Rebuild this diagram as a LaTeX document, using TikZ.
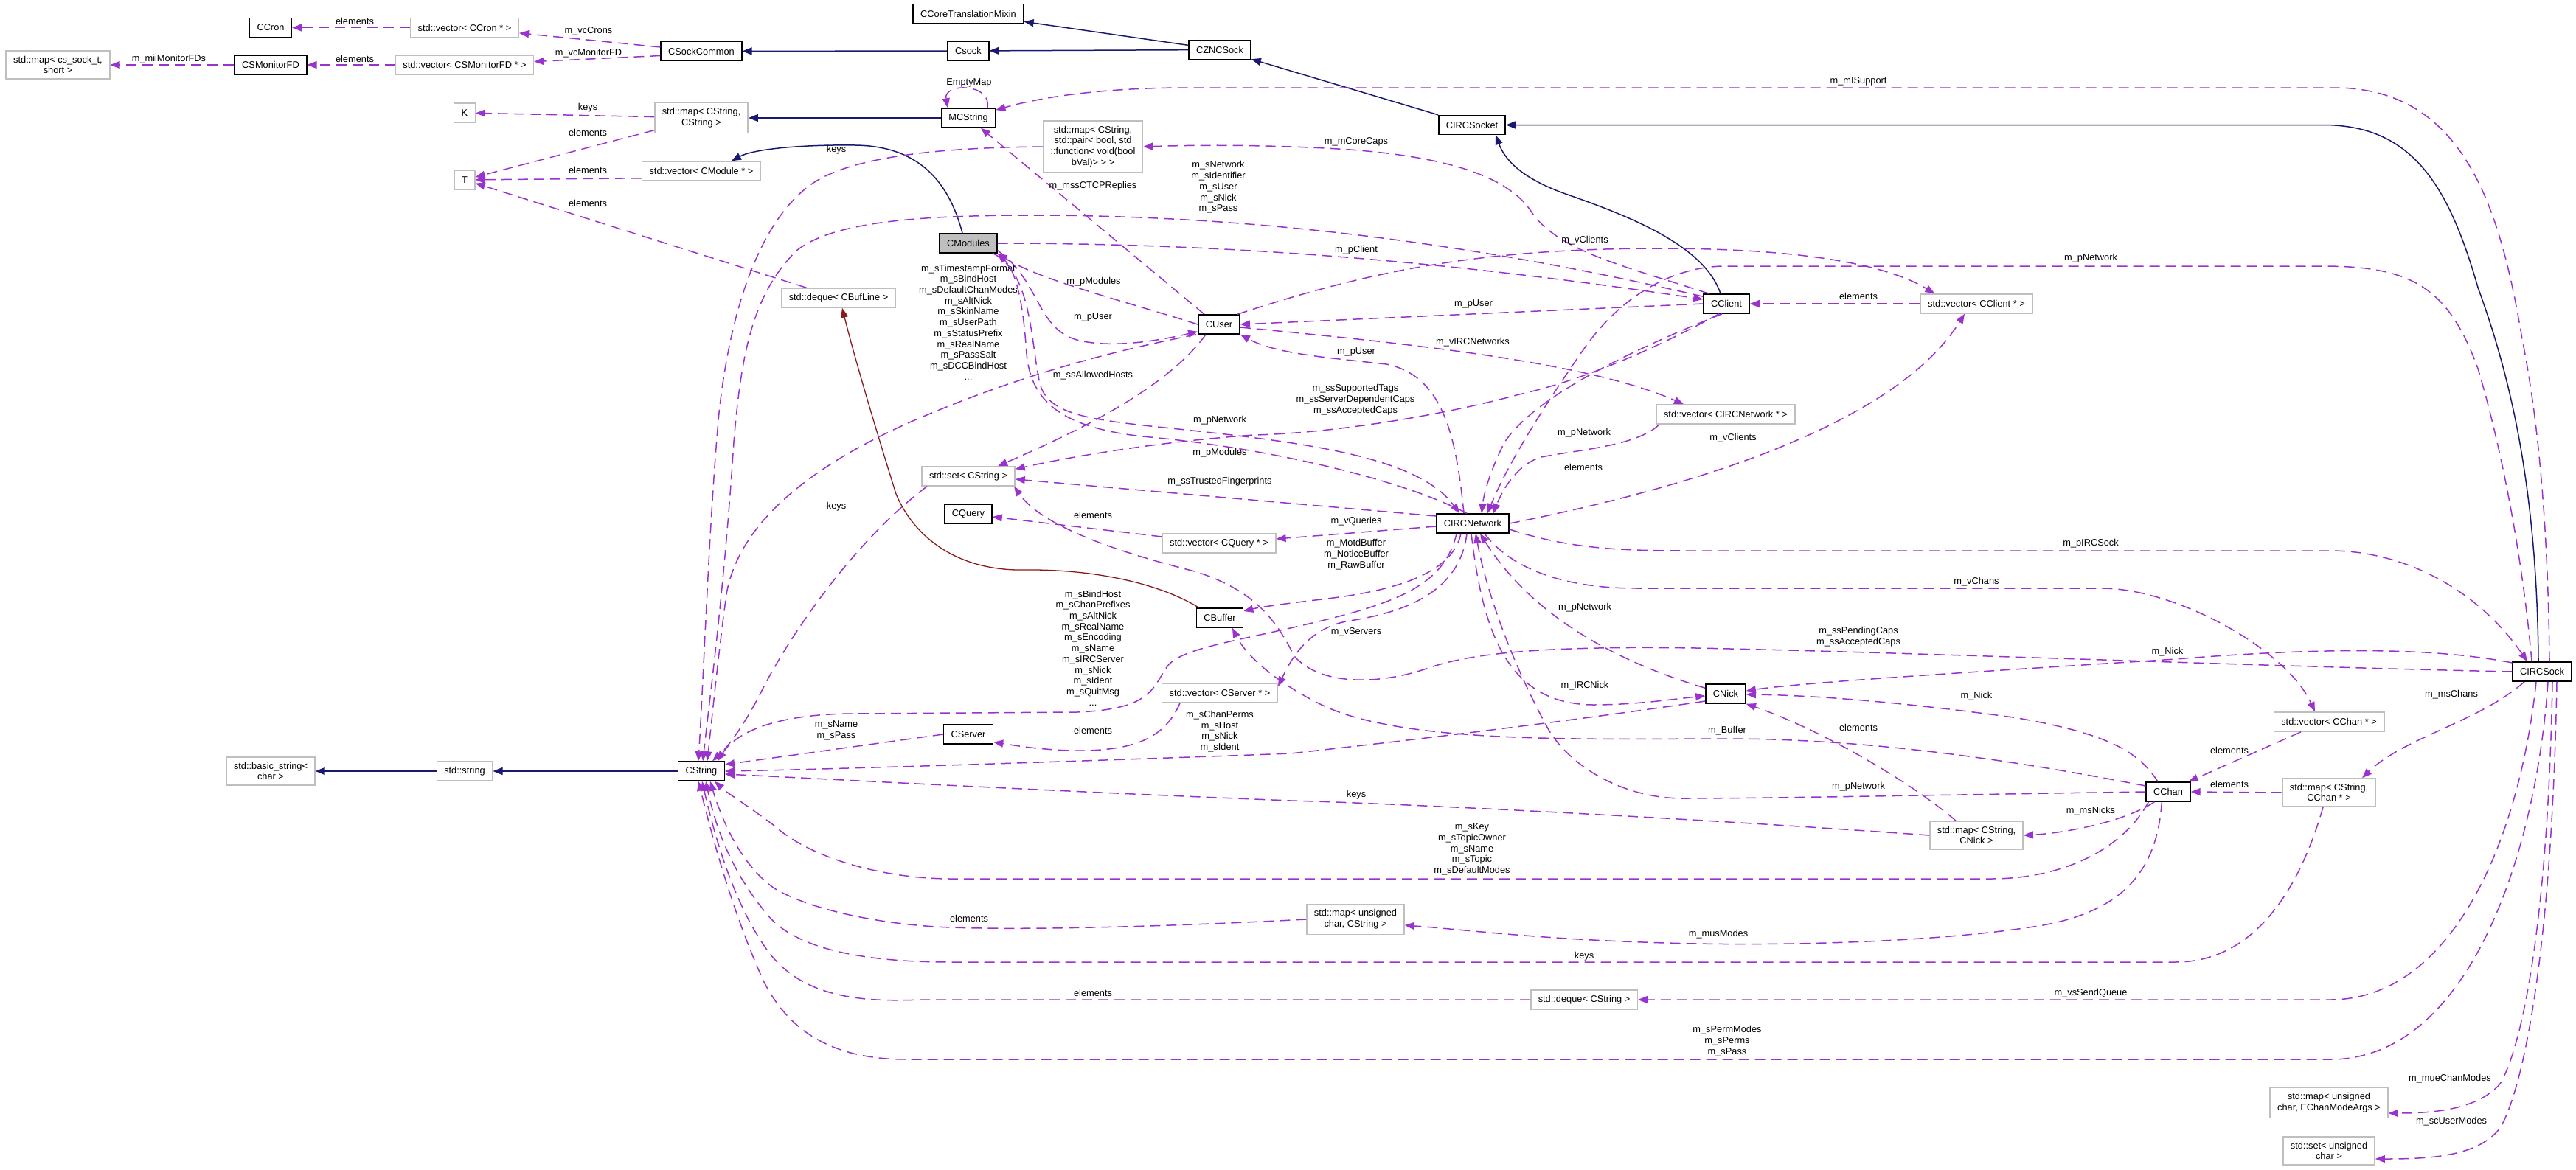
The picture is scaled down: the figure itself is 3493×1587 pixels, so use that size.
\documentclass[tikz,border=0pt]{standalone}
\usepackage{fontspec}
\setmainfont{Liberation Sans}
\usepackage{tikz}
\usetikzlibrary{arrows.meta}
\definecolor{usecol}{HTML}{9A32CD}
\definecolor{inhcol}{HTML}{191970}
\definecolor{tplcol}{HTML}{8B1A1A}
\definecolor{boxgray}{HTML}{BFBFBF}

\begin{document}
\begin{tikzpicture}[
    x=1pt, y=-1pt,
    every node/.style={font=\fontsize{12.8pt}{14.7pt}\selectfont},
    doc/.style={draw=black, line width=1.5pt, fill=white, inner xsep=10pt, inner ysep=7pt, minimum height=26pt, align=center},
    undoc/.style={doc, draw=boxgray},
    member/.style={usecol, line width=1.5pt, dash pattern=on 14pt off 8pt, -{Triangle[length=13pt, width=10pt]}},
    derive/.style={inhcol, line width=1.5pt, -{Triangle[length=13pt, width=10pt]}},
    tplinst/.style={tplcol, line width=1.3pt, -{Triangle[length=13pt, width=10pt]}},
    lbl/.style={text=black, align=center, inner sep=0pt}
]
\fill[white] (0,0) rectangle (3493,1587);
\useasboundingbox (0,0) rectangle (3493,1587);

% classes and containers
\node[doc] (ccron) at (367,37.5) {CCron};
\node[undoc] (vcron) at (630,37.5) {std::vector< CCron * >};
\node[doc] (sockcommon) at (951,69.5) {CSockCommon};
\node[undoc] (mapfd) at (78.5,88) {std::map< cs\_sock\_t,\\short >};
\node[doc] (monfd) at (367,88) {CSMonitorFD};
\node[undoc] (vmonfd) at (630,88) {std::vector< CSMonitorFD * >};
\node[doc] (mixin) at (1313,18.5) {CCoreTranslationMixin};
\node[doc] (csock) at (1313,69) {Csock};
\node[doc] (zncsock) at (1654,67.5) {CZNCSock};
\node[undoc] (kparam) at (630,153) {K};
\node[undoc] (tparam) at (630,244) {T};
\node[undoc] (mapss) at (951,160) {std::map< CString,\\CString >};
\node[doc] (mcstring) at (1313,160) {MCString};
\node[undoc] (vmodule) at (951,232) {std::vector< CModule * >};
\node[undoc] (mapcaps) at (1482,199) {std::map< CString,\\std::pair< bool, std\\::function< void(bool\\bVal)> > >};
\node[doc] (ircsocket) at (1996,169.5) {CIRCSocket};
\node[doc, fill=boxgray] (cmodules) at (1313,330) {CModules};
\node[undoc] (dequebuf) at (1137,404) {std::deque< CBufLine >};
\node[doc] (cuser) at (1653,440) {CUser};
\node[doc] (cclient) at (2341,412) {CClient};
\node[undoc] (vclient) at (2680,412) {std::vector< CClient * >};
\node[undoc] (virc) at (2340,562) {std::vector< CIRCNetwork * >};
\node[undoc] (sset) at (1313,646) {std::set< CString >};
\node[doc] (cquery) at (1313,697) {CQuery};
\node[undoc] (vquery) at (1653,737) {std::vector< CQuery * >};
\node[doc] (ircnet) at (1997,710) {CIRCNetwork};
\node[doc] (cbuffer) at (1654,838) {CBuffer};
\node[undoc] (vserver) at (1654,940) {std::vector< CServer * >};
\node[doc] (cserver) at (1313,996) {CServer};
\node[doc] (cnick) at (2340,941) {CNick};
\node[undoc] (basicstr) at (367,1046) {std::basic\_string<\\char >};
\node[undoc] (stdstr) at (630,1046) {std::string};
\node[doc] (cstring) at (951,1046) {CString};
\node[doc] (ircsock) at (3447,911) {CIRCSock};
\node[undoc] (vchan) at (3158,979) {std::vector< CChan * >};
\node[doc] (cchan) at (2940,1074) {CChan};
\node[undoc] (mapchan) at (3158,1075) {std::map< CString,\\CChan * >};
\node[undoc] (mapnick) at (2680,1133) {std::map< CString,\\CNick >};
\node[undoc] (mapmodes) at (1838,1247) {std::map< unsigned\\char, CString >};
\node[undoc] (dequestr) at (2148,1356) {std::deque< CString >};
\node[undoc] (mapchanmodes) at (3158,1496) {std::map< unsigned\\char, EChanModeArgs >};
\node[undoc] (setumodes) at (3158,1561) {std::set< unsigned\\char >};

% inheritance
\draw[derive] (csock) -- (sockcommon);
\draw[derive] (zncsock) -- (csock);
\draw[derive] (zncsock) -- (mixin);
\draw[derive] (ircsocket) -- (zncsock);
\draw[derive] (mcstring) -- (mapss);
\draw[derive] (cstring) -- (stdstr);
\draw[derive] (stdstr) -- (basicstr);
\draw[derive] ([xshift=-8pt]cmodules.north) .. controls (1285,240) and (1240,198) .. (1160,197) .. controls (1080,196) and (1020,203) .. ([xshift=41pt]vmodule.north);
\draw[derive] ([xshift=-8pt]cclient.north) .. controls (2310,330) and (2200,290) .. (2120,262) .. controls (2060,240) and (2040,215) .. ([xshift=32pt]ircsocket.south);
\draw[derive] ([xshift=-5pt]ircsock.north) .. controls (3440,650) and (3400,500) .. (3360,390) .. controls (3320,250) and (3270,169.5) .. (3150,169.5) -- (ircsocket.east);
\draw[tplinst] ([xshift=4pt]cbuffer.north west) .. controls (1570,790) and (1480,772) .. (1390,773) .. controls (1300,775) and (1240,730) .. (1215,670) .. controls (1190,590) and (1160,490) .. ([xshift=5pt]dequebuf.south);

% socket helpers
\draw[member] (vcron) -- (ccron) node[lbl] at (481,29) {elements};
\draw[member] (sockcommon) -- (vcron) node[lbl] at (798,42) {m\_vcCrons};
\draw[member] ([yshift=-6pt]sockcommon.west) -- (vmonfd) node[lbl] at (798,72) {m\_vcMonitorFD};
\draw[member] (vmonfd) -- (monfd) node[lbl] at (481,80) {elements};
\draw[member] (monfd) -- (mapfd) node[lbl] at (229,80) {m\_miiMonitorFDs};
\draw[member] (mapss) -- (kparam) node[lbl] at (797,146) {keys};
\draw[member] (mapss) -- (tparam) node[lbl] at (797,180) {elements};
\draw[member] ([yshift=4pt]vmodule.south west) -- (tparam) node[lbl] at (797,231) {elements};
\draw[member] (dequebuf) -- (tparam) node[lbl] at (797,276) {elements};
\draw[member] ([xshift=26pt]mcstring.north) .. controls +(6,-34) and +(-6,-34) .. ([xshift=-28pt]mcstring.north) node[lbl] at (1314,112) {EmptyMap};
\draw[member] ([xshift=10pt]ircsock.north) .. controls (3455,700) and (3440,560) .. (3420,460) .. controls (3390,280) and (3340,119) .. (3165,119) -- (1610,119) .. controls (1480,119) and (1400,135) .. ([yshift=-3pt]mcstring.north east) node[lbl] at (2520,110) {m\_mISupport};

% user and client
\draw[member] ([xshift=-20pt]cuser.north) -- ([xshift=17pt]mcstring.south) node[lbl] at (1482,252) {m\_mssCTCPReplies};
\draw[member] ([xshift=8pt]cclient.north west) .. controls (2200,360) and (2110,340) .. (2075,285) .. controls (2040,235) and (1950,212) .. (1830,203) .. controls (1740,197) and (1640,196) .. (mapcaps.east) node[lbl] at (1839,192) {m\_mCoreCaps};
\draw[member] (mapcaps.west) .. controls (1300,200) and (1160,208) .. (1100,250) .. controls (1030,300) and (990,420) .. (975,560) .. controls (962,700) and (955,900) .. ([xshift=-4pt]cstring.north) node[lbl] at (1134,203) {keys};
\draw[member] ([yshift=-4pt]cclient.north west) .. controls (2000,330) and (1700,292) .. (1400,292) .. controls (1250,292) and (1130,300) .. (1080,340) .. controls (1020,400) and (1005,480) .. (995,600) .. controls (982,800) and (962,950) .. ([xshift=2pt]cstring.north) node[lbl] at (1652,254) {m\_sNetwork\\m\_sIdentifier\\m\_sUser\\m\_sNick\\m\_sPass};
\draw[member] (cmodules.east) .. controls (1700,330) and (2000,360) .. ([yshift=6pt]cclient.west) node[lbl] at (1839,339) {m\_pClient};
\draw[member] (cclient.west) -- (cuser.east) node[lbl] at (1998,412) {m\_pUser};
\draw[member] (vclient) -- (cclient) node[lbl] at (2520,402) {elements};
\draw[member] ([xshift=-4pt]cuser.north east) .. controls (1850,370) and (2000,337) .. (2250,337) .. controls (2450,337) and (2560,360) .. ([xshift=20pt]vclient.north west) node[lbl] at (2149,326) {m\_vClients};
\draw[member] (cuser.west) .. controls (1530,410) and (1410,380) .. (cmodules.south east) node[lbl] at (1483,382) {m\_pModules};
\draw[member] ([yshift=4pt]cmodules.south east) .. controls (1410,380) and (1405,445) .. (1460,461) .. controls (1510,474) and (1580,460) .. ([yshift=4pt]cuser.south west) node[lbl] at (1482,430) {m\_pUser};
\draw[member] ([xshift=-2pt]cuser.south west) .. controls (1500,478) and (1380,510) .. (1240,570) .. controls (1080,640) and (1000,720) .. (985,806) .. controls (975,880) and (968,950) .. ([xshift=8pt]cstring.north) node[lbl] at (1313,437) {m\_sTimestampFormat\\m\_sBindHost\\m\_sDefaultChanModes\\m\_sAltNick\\m\_sSkinName\\m\_sUserPath\\m\_sStatusPrefix\\m\_sRealName\\m\_sPassSalt\\m\_sDCCBindHost\\...};
\draw[member] ([xshift=-18pt]cuser.south) .. controls (1580,530) and (1450,590) .. ([xshift=40pt]sset.north) node[lbl] at (1482,509) {m\_ssAllowedHosts};
\draw[member] ([yshift=-4pt]cuser.east) .. controls (1900,465) and (2150,490) .. ([xshift=-57pt]virc.north) node[lbl] at (1997,464) {m\_vIRCNetworks};
\draw[member] ([xshift=-12pt]ircnet.north) .. controls (1975,600) and (1960,510) .. (1880,494) .. controls (1800,485) and (1730,480) .. (cuser.south east) node[lbl] at (1839,477) {m\_pUser};
\draw[member] ([xshift=-10pt]cclient.south) .. controls (2250,470) and (2150,515) .. (2060,535) .. controls (1950,565) and (1800,588) .. (1700,590) .. controls (1560,600) and (1440,622) .. ([yshift=-4pt]sset.north east) node[lbl] at (1838,542) {m\_ssSupportedTags\\m\_ssServerDependentCaps\\m\_ssAcceptedCaps};
\draw[member] ([xshift=-6pt]cclient.south) .. controls (2200,480) and (2080,540) .. (2040,600) .. controls (2020,640) and (2012,670) .. ([xshift=12pt]ircnet.north) node[lbl] at (2148,587) {m\_pNetwork};

% modules and network
\draw[member] ([xshift=-6pt]cmodules.south east) .. controls (1400,370) and (1398,470) .. (1410,520) .. controls (1420,560) and (1470,568) .. (1560,578) .. controls (1750,598) and (1920,615) .. ([xshift=-18pt]ircnet.north) node[lbl] at (1654,570) {m\_pNetwork};
\draw[member] ([xshift=-8pt]ircnet.north) .. controls (1900,650) and (1720,608) .. (1560,593) .. controls (1440,582) and (1398,545) .. (1392,480) .. controls (1388,420) and (1380,370) .. (cmodules.south east) node[lbl] at (1654,614) {m\_pModules};
\draw[member] ([yshift=10pt]ircnet.west) -- ([yshift=-4pt]sset.east) node[lbl] at (1654,653) {m\_ssTrustedFingerprints};
\draw[member] ([yshift=-4pt]ircnet.west) -- ([yshift=6pt]vquery.east) node[lbl] at (1839,707) {m\_vQueries};
\draw[member] ([yshift=9pt]vquery.west) -- ([yshift=-4pt]cquery.east) node[lbl] at (1482,699) {elements};
\draw[member] ([xshift=-16pt]ircnet.south) .. controls (1970,775) and (1900,800) .. (1800,812) .. controls (1750,818) and (1710,823) .. ([yshift=9pt]cbuffer.east) node[lbl] at (1839,752) {m\_MotdBuffer\\m\_NoticeBuffer\\m\_RawBuffer};
\draw[member] ([xshift=-8pt]ircnet.south) .. controls (1980,800) and (1910,830) .. (1830,842) .. controls (1770,852) and (1748,900) .. ([yshift=9pt]vserver.east) node[lbl] at (1839,857) {m\_vServers};
\draw[member] ([xshift=25pt]vserver.south west) .. controls (1580,1000) and (1540,1020) .. (1450,1018) .. controls (1400,1016) and (1370,1010) .. ([yshift=3pt]cserver.south east) node[lbl] at (1482,991) {elements};
\draw[member] (cserver.west) -- ([yshift=9pt]cstring.east) node[lbl] at (1134,991) {m\_sName\\m\_sPass};
\draw[member] ([xshift=-22pt]ircnet.south) .. controls (1960,790) and (1900,815) .. (1800,840) .. controls (1680,870) and (1600,878) .. (1582,905) .. controls (1562,935) and (1560,962) .. (1460,966) -- (1160,968) .. controls (1060,968) and (1000,990) .. ([xshift=22pt]cstring.north) node[lbl] at (1482,879) {m\_sBindHost\\m\_sChanPrefixes\\m\_sAltNick\\m\_sRealName\\m\_sEncoding\\m\_sName\\m\_sIRCServer\\m\_sNick\\m\_sIdent\\m\_sQuitMsg\\...};
\draw[member] ([xshift=-56pt]sset.south) .. controls (1150,740) and (1060,880) .. (1030,943) .. controls (1005,990) and (985,1015) .. ([xshift=15pt]cstring.north) node[lbl] at (1134,687) {keys};
\draw[member] ([xshift=-90pt]virc.south) .. controls (2220,605) and (2140,610) .. (2090,620) .. controls (2055,630) and (2035,670) .. ([xshift=28pt]ircnet.north) node[lbl] at (2147,634) {elements};
\draw[member] (ircnet.east) .. controls (2350,650) and (2580,560) .. ([xshift=-16pt]vclient.south) node[lbl] at (2350,594) {m\_vClients};
\draw[member] ([xshift=-14pt]ircsock.north) .. controls (3420,750) and (3390,600) .. (3360,500) .. controls (3320,390) and (3270,361) .. (3150,361) -- (2340,361) .. controls (2270,361) and (2200,400) .. (2150,470) .. controls (2080,570) and (2040,640) .. ([xshift=20pt]ircnet.north) node[lbl] at (2835,350) {m\_pNetwork};

% nicks, buffers, channels
\draw[member] ([yshift=-6pt]cnick.north west) .. controls (2200,900) and (2080,840) .. ([xshift=10pt]ircnet.south) node[lbl] at (2149,824) {m\_pNetwork};
\draw[member] ([xshift=-2pt]ircnet.south) .. controls (2010,850) and (2040,955) .. (2160,956) .. controls (2220,956) and (2270,948) .. ([yshift=-3pt]cnick.west) node[lbl] at (2149,930) {m\_IRCNick};
\draw[member] ([yshift=-10pt]cnick.west) .. controls (2150,975) and (1950,1000) .. (1750,1022) .. controls (1400,1035) and (1100,1044) .. (cstring.east) node[lbl] at (1654,992) {m\_sChanPerms\\m\_sHost\\m\_sNick\\m\_sIdent};
\draw[member] (mapnick.west) .. controls (2300,1110) and (1900,1090) .. (1750,1086) .. controls (1400,1072) and (1150,1058) .. ([yshift=-4pt]cstring.east) node[lbl] at (1839,1078) {keys};
\draw[member] (ircsock.west) .. controls (3100,905) and (2600,885) .. (2300,879) .. controls (2100,876) and (2000,885) .. (1940,905) .. controls (1870,930) and (1790,930) .. (1755,890) .. controls (1730,840) and (1700,800) .. (1620,775) .. controls (1500,745) and (1410,710) .. ([xshift=62pt]sset.south) node[lbl] at (2520,864) {m\_ssPendingCaps\\m\_ssAcceptedCaps};
\draw[member] ([yshift=12pt]ircsock.west) .. controls (3300,878) and (3150,878) .. (2950,894) .. controls (2700,910) and (2450,925) .. ([yshift=4pt]cnick.east) node[lbl] at (2939,884) {m\_Nick};
\draw[member] ([xshift=-14pt]cchan.north) .. controls (2900,1020) and (2860,995) .. (2730,973) .. controls (2560,950) and (2450,943) .. ([yshift=-1pt]cnick.east) node[lbl] at (2680,944) {m\_Nick};
\draw[member] ([xshift=-28pt]mapnick.north) .. controls (2590,1060) and (2470,990) .. (cnick.south east) node[lbl] at (2520,987) {elements};
\draw[member] ([yshift=8pt]cchan.west) .. controls (2750,1035) and (2550,1003) .. (2350,1002) .. controls (2150,1002) and (1900,1010) .. (1790,955) .. controls (1730,925) and (1690,890) .. ([xshift=17pt]cbuffer.south) node[lbl] at (2342,991) {m\_Buffer};
\draw[member] (cchan.west) .. controls (2700,1077) and (2400,1083) .. (2280,1083) .. controls (2200,1082) and (2130,1040) .. (2100,990) .. controls (2050,900) and (2015,800) .. ([xshift=4pt]ircnet.south) node[lbl] at (2520,1067) {m\_pNetwork};
\draw[member] ([yshift=-8pt]ircnet.east) .. controls (2130,745) and (2200,747) .. (2290,747) -- (3160,747) .. controls (3260,747) and (3360,800) .. ([xshift=-20pt]ircsock.north) node[lbl] at (2835,737) {m\_pIRCSock};
\draw[member] ([xshift=16pt]ircnet.south) .. controls (2040,760) and (2100,798) .. (2220,798) -- (2850,798) .. controls (2950,798) and (3100,880) .. ([xshift=-19pt]vchan.north) node[lbl] at (2680,789) {m\_vChans};
\draw[member] ([xshift=-38pt]vchan.south) -- ([xshift=-3pt]cchan.north east) node[lbl] at (3023,1018) {elements};
\draw[member] (mapchan.west) -- (cchan.east) node[lbl] at (3023,1064) {elements};
\draw[member] ([xshift=-24pt]ircsock.south) .. controls (3360,980) and (3260,1000) .. ([xshift=45pt]mapchan.north) node[lbl] at (3324,942) {m\_msChans};
\draw[member] ([xshift=12pt]cchan.south west) .. controls (2880,1115) and (2800,1130) .. (mapnick.east) node[lbl] at (2835,1100) {m\_msNicks};
\draw[member] ([xshift=4pt]cchan.south west) .. controls (2880,1150) and (2800,1192) .. (2700,1192) -- (1290,1192) .. controls (1200,1192) and (1100,1165) .. (1050,1120) .. controls (1010,1090) and (985,1075) .. ([xshift=18pt]cstring.south) node[lbl] at (1996,1152) {m\_sKey\\m\_sTopicOwner\\m\_sName\\m\_sTopic\\m\_sDefaultModes};
\draw[member] ([xshift=22pt]cchan.south west) .. controls (2925,1180) and (2880,1235) .. (2770,1255) .. controls (2620,1280) and (2400,1282) .. (2300,1280) .. controls (2100,1276) and (2000,1262) .. ([yshift=-8pt]mapmodes.east) node[lbl] at (2330,1267) {m\_musModes};
\draw[member] (mapmodes.west) .. controls (1600,1256) and (1400,1262) .. (1290,1258) .. controls (1200,1255) and (1100,1235) .. (1050,1205) .. controls (1000,1170) and (975,1100) .. ([xshift=12pt]cstring.south) node[lbl] at (1314,1246) {elements};
\draw[member] ([xshift=-8pt]mapchan.south) .. controls (3120,1200) and (3060,1305) .. (2950,1305) -- (1290,1305) .. controls (1180,1305) and (1080,1290) .. (1040,1240) .. controls (990,1180) and (970,1120) .. ([xshift=6pt]cstring.south) node[lbl] at (2148,1297) {keys};
\draw[member] (dequestr.west) -- (1250,1356) .. controls (1160,1360) and (1090,1350) .. (1045,1295) .. controls (995,1230) and (968,1130) .. ([xshift=1pt]cstring.south) node[lbl] at (1482,1347) {elements};
\draw[member] ([xshift=-8pt]ircsock.south) .. controls (3415,1150) and (3320,1356) .. (3160,1356) -- (dequestr.east) node[lbl] at (2835,1347) {m\_vsSendQueue};
\draw[member] ([xshift=8pt]ircsock.south) .. controls (3440,1150) and (3350,1437) .. (3160,1437) -- (1230,1437) .. controls (1130,1437) and (1070,1400) .. (1035,1330) .. controls (990,1230) and (962,1120) .. ([xshift=-4pt]cstring.south) node[lbl] at (2342,1412) {m\_sPermModes\\m\_sPerms\\m\_sPass};
\draw[member] ([xshift=14pt]ircsock.south) .. controls (3455,1250) and (3420,1420) .. (3390,1470) .. controls (3360,1505) and (3300,1510) .. ([yshift=-14pt]mapchanmodes.east) node[lbl] at (3322,1463) {m\_mueChanModes};
\draw[member] ([xshift=20pt]ircsock.south) .. controls (3460,1300) and (3420,1480) .. (3390,1530) .. controls (3360,1570) and (3290,1572) .. ([yshift=-11pt]setumodes.east) node[lbl] at (3324,1521) {m\_scUserModes};
\end{tikzpicture}
\end{document}
